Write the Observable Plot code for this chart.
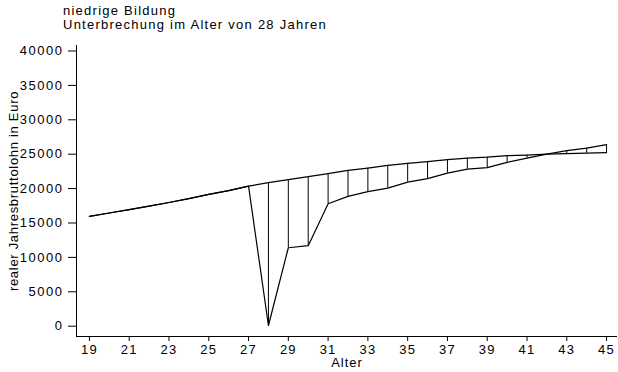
<!DOCTYPE html>
<html><head><meta charset="utf-8">
<script src="https://cdn.jsdelivr.net/npm/d3@7"></script>
<script src="https://cdn.jsdelivr.net/npm/@observablehq/plot@0.6"></script>
<style>
body{margin:0;background:#fff;font-family:"Liberation Sans",Arial,sans-serif;}
#wrap{position:relative;width:618px;height:372px;}
#title{position:absolute;left:63px;top:4px;font-size:13px;line-height:14px;color:#000;letter-spacing:1.25px;}
#chart{position:absolute;left:0;top:0;}
g[aria-label="y-axis tick label"] text{letter-spacing:1.5px;}
g[aria-label="x-axis tick label"] text{letter-spacing:1.2px;}
g[aria-label="y-axis label"] text{letter-spacing:0.7px;}
g[aria-label="x-axis label"] text{letter-spacing:1px;}
</style></head>
<body>
<div id="wrap">
<div id="chart"></div>
<div id="title">niedrige Bildung<br>Unterbrechung im Alter von 28 Jahren</div>
</div>
<script>
const ages = [19,20,21,22,23,24,25,26,27,28,29,30,31,32,33,34,35,36,37,38,39,40,41,42,43,44,45];
const ohneUnterbrechung = [15950,16450,16950,17450,17980,18550,19150,19700,20350,20860,21290,21730,22170,22650,22980,23370,23670,23910,24200,24440,24580,24790,24870,25000,25080,25160,25220];
const mitUnterbrechung = [15950,16450,16950,17450,17980,18550,19150,19700,20350,100,11400,11700,17800,18870,19550,20070,20950,21440,22250,22840,23040,23810,24440,25000,25510,25890,26390];
const xTicks = [19,21,23,25,27,29,31,33,35,37,39,41,43,45];
const yTicks = [0,5000,10000,15000,20000,25000,30000,35000,40000];

const data = ages.map((a,i)=>({alter:a, ohne:ohneUnterbrechung[i], mit:mitUnterbrechung[i]}));
const xDom = [18.35, 45.55];
const yDom = [-1500, 40800];

const plot = Plot.plot({
  width: 618, height: 372,
  marginLeft: 76, marginRight: 1, marginTop: 45, marginBottom: 36,
  style: {fontFamily: '"Liberation Sans", Arial, sans-serif', fontSize: "13px", color: "#000", background: "#fff"},
  x: {domain: xDom},
  y: {domain: yDom},
  marks: [
    Plot.ruleX(data.filter(d => d.ohne !== d.mit), {x: "alter", y1: "ohne", y2: "mit", stroke: "#000", strokeWidth: 1}),
    Plot.line(data, {x: "alter", y: "ohne", stroke: "#000", strokeWidth: 1.2}),
    Plot.line(data, {x: "alter", y: "mit", stroke: "#000", strokeWidth: 1.2}),
    Plot.ruleX([xDom[0]], {stroke: "#000", strokeWidth: 1}),
    Plot.ruleY([yDom[0]], {stroke: "#000", strokeWidth: 1}),
    Plot.axisY({ticks: yTicks, tickSize: 8, tickPadding: 5, tickFormat: d => String(d), label: "realer Jahresbruttolohn in Euro", labelAnchor: "center", labelArrow: "none", labelOffset: 68, fontSize: 13}),
    Plot.axisX({ticks: xTicks, tickSize: 5, tickPadding: 3, tickFormat: d => String(d), label: "Alter", labelAnchor: "center", labelArrow: "none", labelOffset: 30, fontSize: 13})
  ]
});
document.getElementById("chart").appendChild(plot);
</script>
</body></html>
